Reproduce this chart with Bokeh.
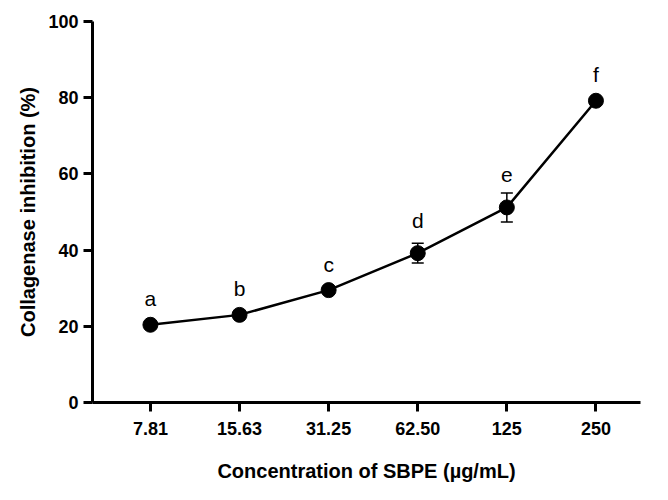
from bokeh.plotting import figure
from bokeh.models import FixedTicker, ColumnDataSource, Whisker, TeeHead, Range1d
from bokeh.core.properties import value
from bokeh.embed import file_html
from bokeh.resources import INLINE

concentrations = ["7.81", "15.63", "31.25", "62.50", "125", "250"]
inhibition = [20.4, 23.0, 29.5, 39.2, 51.2, 79.2]
errors = [0.8, 0.8, 0.8, 2.6, 3.8, 0.8]
letters = ["a", "b", "c", "d", "e", "f"]

xs = list(range(len(concentrations)))
src = ColumnDataSource(dict(
    x=xs, y=inhibition,
    lo=[v - e for v, e in zip(inhibition, errors)],
    hi=[v + e for v, e in zip(inhibition, errors)],
    ly=[v + e + 3 for v, e in zip(inhibition, errors)],
    lab=letters))

p = figure(width=652, height=484, output_backend="svg", toolbar_location=None,
           x_range=Range1d(-0.65, 5.5), y_range=Range1d(0, 100),
           min_border_left=92, min_border_top=21, min_border_right=12, min_border_bottom=70)
p.grid.visible = False
p.outline_line_color = None
p.background_fill_color = "white"

p.line("x", "y", source=src, line_color="black", line_width=2.5)
w = Whisker(source=src, base="x", lower="lo", upper="hi", line_color="black", line_width=1.5,
            upper_head=TeeHead(size=12, line_color="black", line_width=1.5),
            lower_head=TeeHead(size=12, line_color="black", line_width=1.5))
p.add_layout(w)
p.scatter("x", "y", source=src, size=15, color="black")
p.text("x", "ly", text="lab", source=src, text_align="center", text_baseline="bottom",
       text_font=value("Liberation Sans"), text_font_size="21px", text_color="black")

p.xaxis.ticker = FixedTicker(ticks=xs)
p.xaxis.major_label_overrides = {i: c for i, c in zip(xs, concentrations)}
p.yaxis.ticker = FixedTicker(ticks=[0, 20, 40, 60, 80, 100])
p.yaxis.minor_tick_line_color = None
p.xaxis.minor_tick_line_color = None
for ax in (p.xaxis, p.yaxis):
    ax.axis_line_width = 3
    ax.major_tick_line_width = 3
    ax.axis_line_color = "black"
    ax.major_tick_line_color = "black"
    ax.major_tick_out = 9
    ax.major_tick_in = 0
    ax.major_label_text_font = "Liberation Sans"
    ax.major_label_text_font_style = "bold"
    ax.major_label_text_font_size = "18px"
    ax.major_label_text_color = "black"
    ax.axis_label_text_font = "Liberation Sans"
    ax.axis_label_text_font_style = "bold"
    ax.axis_label_text_font_size = "20px"
    ax.axis_label_text_color = "black"
p.xaxis.major_label_standoff = 10
p.xaxis.axis_label_standoff = 22
p.xaxis.axis_label = "Concentration of SBPE (µg/mL)"
p.yaxis.axis_label = "Collagenase inhibition (%)"
p.yaxis.axis_label_standoff = 6

open("out.html", "w").write(file_html(p, INLINE))
